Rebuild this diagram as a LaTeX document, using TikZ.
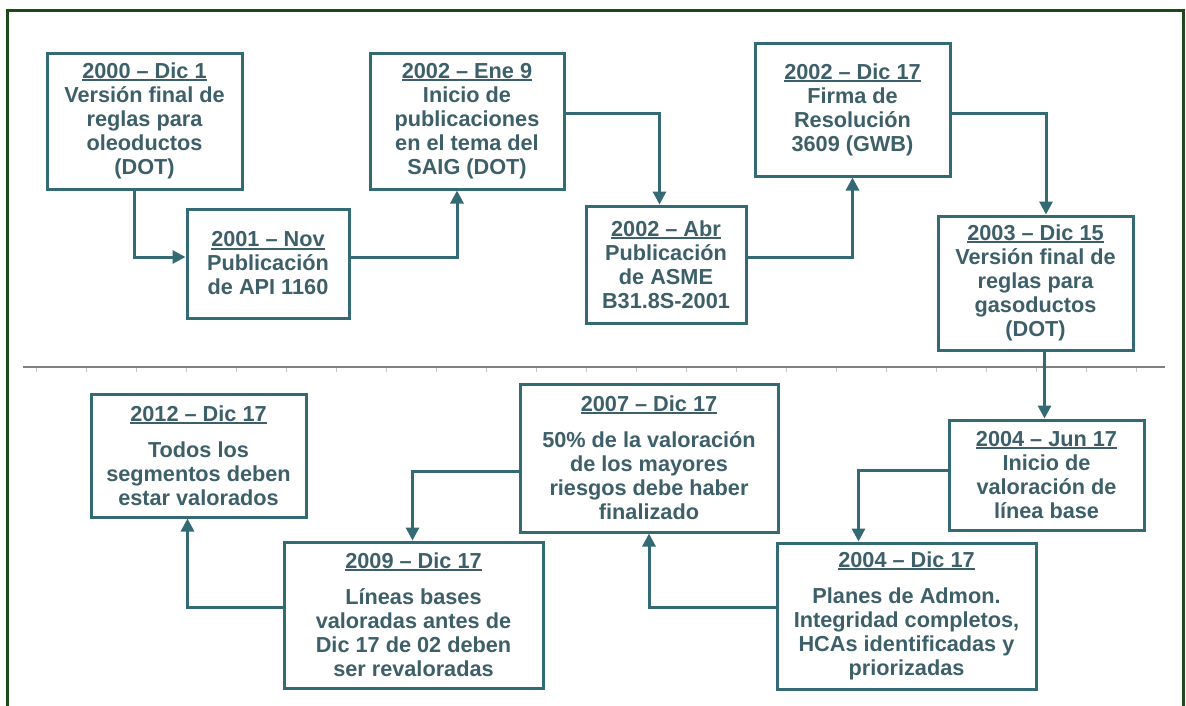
\documentclass[tikz,border=0pt]{standalone}
\usepackage{fontspec}
\setmainfont{Liberation Sans}
\usetikzlibrary{arrows.meta}
\definecolor{tealline}{HTML}{336A74}
\definecolor{tealtext}{HTML}{3D5F69}
\definecolor{framegreen}{HTML}{1B4A1B}
\definecolor{rulegray}{HTML}{7D827C}
\newcommand{\fecha}[1]{\setbox0\hbox{#1}\rlap{\rule[-2.6pt]{\wd0}{1.9pt}}\box0}
\tikzset{
  evt/.style={draw=tealline, line width=3pt, text=tealtext, align=center,
    font=\bfseries\fontsize{21.7}{24}\selectfont, inner sep=0pt},
  link/.style={draw=tealline, line width=3pt, -{Triangle[length=13pt,width=13pt]}}
}
\begin{document}
\begin{tikzpicture}[x=1pt,y=-1pt]
      \useasboundingbox (0,0) rectangle (1186,705);
      \draw[framegreen, line width=2.7pt] (7.3,720) -- (7.3,10.5) -- (1183.5,10.5) -- (1183.5,720);
      \draw[rulegray, line width=2.5pt] (23,367) -- (1165,367);
      \foreach \x in {36,86,...,1136}
        \draw[rulegray!45, line width=1pt] (\x,368) -- (\x,371.5);
      \node[evt, minimum width=195pt, minimum height=136pt] (dic00) at (144.5,121)
        {\fecha{2000 – Dic 1}\\Versión final de\\reglas para\\oleoductos\\(DOT)};
      \node[evt, minimum width=162pt, minimum height=109pt] (nov01) at (268,263.5)
        {\fecha{2001 – Nov}\\Publicación\\de API 1160};
      \node[evt, minimum width=194pt, minimum height=136pt] (ene02) at (467,121)
        {\fecha{2002 – Ene 9}\\Inicio de\\publicaciones\\en el tema del\\SAIG (DOT)};
      \node[evt, minimum width=160pt, minimum height=117pt] (abr02) at (666,264.5)
        {\fecha{2002 – Abr}\\Publicación\\de ASME\\B31.8S-2001};
      \node[evt, minimum width=195pt, minimum height=133pt] (dic02) at (852.5,109.5)
        {\fecha{2002 – Dic 17}\\Firma de\\Resolución\\3609 (GWB)};
      \node[evt, minimum width=195pt, minimum height=134pt] (dic03) at (1035.5,283)
        {\fecha{2003 – Dic 15}\\Versión final de\\reglas para\\gasoductos\\(DOT)};
      \node[evt, minimum width=195pt, minimum height=110pt] (jun04) at (1046.5,475)
        {\fecha{2004 – Jun 17}\\Inicio de\\valoración de\\línea base};
      \node[evt, minimum width=259pt, minimum height=146pt] (dic04) at (906.5,616)
        {\fecha{2004 – Dic 17}\\[12pt]Planes de Admon.\\Integridad completos,\\HCAs identificadas y\\priorizadas};
      \node[evt, minimum width=258pt, minimum height=148pt] (dic07) at (649,458)
        {\fecha{2007 – Dic 17}\\[12pt]50\% de la valoración\\de los mayores\\riesgos debe haber\\finalizado};
      \node[evt, minimum width=259pt, minimum height=146pt] (dic09) at (413.5,615)
        {\fecha{2009 – Dic 17}\\[12pt]Líneas bases\\valoradas antes de\\Dic 17 de 02 deben\\ser revaloradas};
      \node[evt, minimum width=215pt, minimum height=123pt] (dic12) at (198.5,455.5)
        {\fecha{2012 – Dic 17}\\[12pt]Todos los\\segmentos deben\\estar valorados};
      \begin{scope}[link]
        \draw ([xshift=-10.5pt]dic00.south) |- ([yshift=6.5pt]nov01.west);
        \draw ([yshift=6.5pt]nov01.east) -| ([xshift=-10pt]ene02.south);
        \draw ([yshift=8pt]ene02.east) -| ([xshift=-6.5pt]abr02.north);
        \draw ([yshift=7.5pt]abr02.east) -| (dic02.south);
        \draw ([yshift=-3.5pt]dic02.east) -| ([xshift=10.5pt]dic03.north);
        \draw ([xshift=9pt]dic03.south) -- ([xshift=-2pt]jun04.north);
        \draw ([yshift=5pt]jun04.west) -| ([xshift=-48pt]dic04.north);
        \draw ([yshift=9pt]dic04.west) -| (dic07.south);
        \draw ([yshift=-13pt]dic07.west) -| ([xshift=-1pt]dic09.north);
        \draw ([yshift=8pt]dic09.west) -| ([xshift=-11pt]dic12.south);
      \end{scope}
    \end{tikzpicture}
\end{document}
